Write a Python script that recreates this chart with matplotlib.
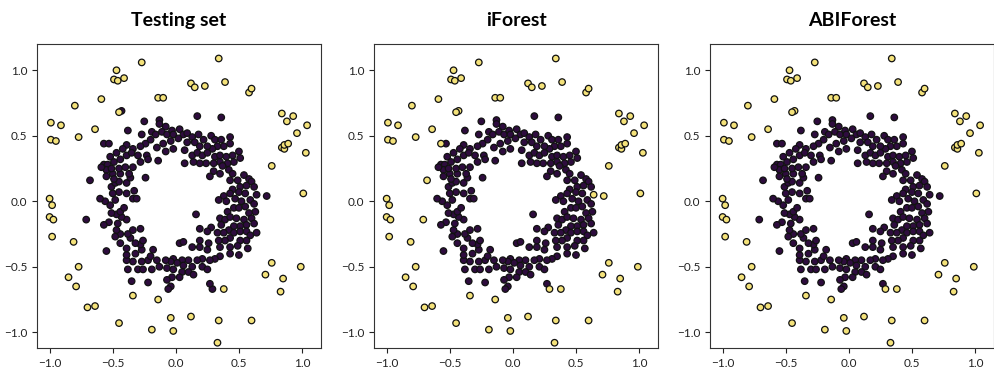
import matplotlib
matplotlib.use("Agg")
import matplotlib.pyplot as plt
from matplotlib.colors import ListedColormap
import numpy as np

# ---- data ----
# true outliers
outlier_x = [0.34, -0.27, -0.47, -0.49, -0.46, -0.41, 0.12, 0.15, 0.23, 0.39, 0.58, 0.60,
             -0.59, -0.14, -0.10, -0.80, -0.45, -0.99, -0.91, -0.64, -0.99, -0.95, -0.77,
             0.84, 0.93, 0.88, 1.04, 0.96, 0.84, 0.86, 0.86, 0.89, 1.03, 0.76, 1.01,
             -1.00, -0.98, -1.00, -0.97, -0.98, -0.81, -0.77, -0.85, -0.79, -0.34, -0.14,
             -0.70, -0.64, -0.45, -0.19, -0.04, -0.02, 0.12, 0.34, 0.33, 0.60, 0.38,
             0.76, 0.71, 0.99, 0.85, 0.83]
outlier_y = [1.09, 1.06, 1.00, 0.93, 0.92, 0.94, 0.90, 0.87, 0.88, 0.91, 0.83, 0.86,
             0.78, 0.79, 0.79, 0.73, 0.68, 0.60, 0.58, 0.55, 0.47, 0.46, 0.49,
             0.67, 0.65, 0.61, 0.58, 0.52, 0.41, 0.40, 0.43, 0.44, 0.37, 0.27, 0.06,
             0.02, -0.03, -0.12, -0.14, -0.27, -0.31, -0.50, -0.58, -0.65, -0.72, -0.75,
             -0.81, -0.80, -0.93, -0.98, -0.89, -0.99, -0.88, -0.91, -1.08, -0.91, -0.67,
             -0.47, -0.56, -0.50, -0.59, -0.69]

# true inliers (first seven are the ones some detectors flag)
inlier_x = [-0.43, 0.29, -0.57, -0.68, -0.71, 0.64, 0.72,
            -0.25, -0.13, -0.13, -0.08, 0.17, 0.36, -0.38, -0.27, -0.19, -0.16, -0.11, -0.07,
            -0.03, -0.02, 0.03, 0.06, 0.09, 0.13, 0.18, 0.22, 0.28, 0.31, 0.36, 0.43, 0.43,
            0.38, 0.33, 0.29, 0.25, 0.19, 0.15, 0.09, 0.02, -0.04, -0.10, -0.15, -0.20, -0.24,
            -0.28, -0.34, -0.39, -0.53, -0.42, -0.47, -0.52, -0.57, -0.54, -0.49, -0.44,
            -0.39, -0.35, -0.30, -0.23, -0.22, -0.14, -0.08, -0.02, 0.07, 0.13, 0.17, 0.21,
            0.25, 0.31, 0.35, 0.40, 0.45, 0.50, 0.51, 0.46, 0.41, 0.35, 0.30, 0.24, 0.19,
            0.14, 0.07, 0.42, 0.37, 0.35, 0.30, 0.27, 0.45, 0.54, 0.58, 0.60, 0.49, 0.43,
            0.51, 0.56, 0.62, 0.45, 0.50, 0.55, 0.43, 0.38, 0.34, 0.40, 0.47, 0.52, 0.59,
            0.46, 0.50, 0.55, 0.62, 0.63, 0.58, 0.41, 0.35, 0.39, 0.43, 0.48, 0.54, 0.60,
            0.62, 0.56, 0.51, 0.46, 0.42, 0.36, 0.28, 0.16, 0.19, 0.25, 0.33, 0.38, 0.46,
            0.51, 0.56, 0.59, 0.64, 0.56, 0.51, 0.43, 0.39, 0.34, 0.26, 0.19, 0.13, 0.19,
            0.25, 0.35, 0.43, 0.49, 0.57, 0.50, 0.43, 0.35, 0.31, 0.27, 0.21, 0.17, 0.10,
            0.05, -0.02, 0.03, 0.06, 0.21, 0.25, 0.13, 0.06, 0.01, -0.04, -0.08, -0.15,
            -0.22, -0.27, -0.34, -0.39, -0.38, -0.30, -0.26, -0.19, -0.13, -0.07, -0.02,
            0.05, 0.10, 0.14, 0.03, -0.03, -0.07, -0.22, -0.35, -0.04, 0.27, -0.06, -0.18,
            -0.20, -0.27, -0.32, -0.39, -0.28, -0.32, -0.26, -0.39, -0.44, -0.36, -0.38,
            -0.34, -0.28, -0.44, -0.47, -0.48, -0.55, -0.46, -0.53, -0.57, -0.39, -0.43,
            -0.47, -0.51, -0.44, -0.41, -0.52, -0.56, -0.60, -0.48, -0.34, -0.31, -0.33,
            -0.39, -0.45, -0.50, -0.51, -0.48, -0.45, -0.39, -0.36, -0.50, -0.44, -0.37,
            -0.55, -0.59, -0.51, -0.45, -0.40, -0.34, -0.28, -0.24, -0.55, -0.49]
inlier_y = [0.69, -0.67, 0.44, 0.16, -0.14, 0.05, 0.04,
            0.61, 0.62, 0.59, 0.57, 0.65, 0.64, 0.54, 0.51, 0.53, 0.51, 0.53, 0.51,
            0.54, 0.51, 0.55, 0.51, 0.52, 0.49, 0.51, 0.47, 0.50, 0.47, 0.47, 0.49, 0.44,
            0.42, 0.42, 0.40, 0.42, 0.42, 0.45, 0.45, 0.48, 0.46, 0.44, 0.41, 0.47, 0.44,
            0.42, 0.40, 0.43, 0.44, 0.40, 0.37, 0.34, 0.28, 0.28, 0.30, 0.32,
            0.35, 0.37, 0.35, 0.35, 0.32, 0.31, 0.38, 0.40, 0.39, 0.35, 0.37, 0.35,
            0.37, 0.34, 0.35, 0.34, 0.35, 0.38, 0.33, 0.30, 0.29, 0.30, 0.29, 0.29, 0.29,
            0.30, 0.29, 0.24, 0.27, 0.21, 0.23, 0.19, 0.21, 0.20, 0.17, 0.15, 0.16, 0.16,
            0.11, 0.12, 0.11, 0.09, 0.07, 0.06, 0.06, 0.04, 0.01, 0.00, 0.02, 0.00, 0.01,
            -0.05, -0.05, -0.04, -0.02, -0.08, -0.09, -0.08, -0.13, -0.14, -0.12, -0.13, -0.14, -0.13,
            -0.17, -0.18, -0.19, -0.19, -0.22, -0.18, -0.20, -0.10, -0.21, -0.23, -0.24, -0.24, -0.24,
            -0.23, -0.23, -0.26, -0.24, -0.30, -0.30, -0.28, -0.30, -0.30, -0.32, -0.30, -0.35, -0.35,
            -0.37, -0.35, -0.35, -0.34, -0.36, -0.41, -0.40, -0.42, -0.44, -0.45, -0.44, -0.45, -0.45,
            -0.45, -0.44, -0.32, -0.31, -0.50, -0.52, -0.50, -0.49, -0.47, -0.46, -0.45, -0.45,
            -0.45, -0.46, -0.46, -0.45, -0.52, -0.52, -0.52, -0.52, -0.50, -0.51, -0.52,
            -0.54, -0.54, -0.56, -0.58, -0.58, -0.60, -0.62, -0.61, -0.65, -0.63, -0.67, -0.37,
            -0.42, -0.37, -0.40, -0.41, -0.33, -0.32, -0.30, -0.36, -0.32, -0.28, -0.25,
            -0.22, -0.21, -0.25, -0.22, -0.27, -0.38, -0.17, -0.16, -0.18, -0.14, -0.12,
            -0.10, -0.09, -0.08, -0.05, -0.03, 0.00, 0.02, 0.01, 0.02, 0.02, 0.08,
            0.06, 0.07, 0.06, 0.11, 0.14, 0.15, 0.14, 0.18, 0.21, 0.21, 0.21,
            0.24, 0.26, 0.25, 0.25, 0.26, 0.26, 0.30, 0.18, 0.19, 0.17]

# indices of true inliers that each detector labels as outliers
iforest_flagged = [0, 1, 2, 3, 4, 5, 6]
abiforest_flagged = [0, 1]

titles = ["Testing set", "iForest", "ABIForest"]
xticks = [-1.0, -0.5, 0.0, 0.5, 1.0]
yticks = [-1.0, -0.5, 0.0, 0.5, 1.0]
class_colors = ["#2e0c3e", "#f4e27a"]

# ---- build label arrays ----
X = np.array(inlier_x + outlier_x)
Y = np.array(inlier_y + outlier_y)
n_in = len(inlier_x)
truth = np.array([0] * n_in + [1] * len(outlier_x))
pred_if = truth.copy()
pred_if[iforest_flagged] = 1
pred_abi = truth.copy()
pred_abi[abiforest_flagged] = 1
labels = [truth, pred_if, pred_abi]

cmap = ListedColormap(class_colors)

fig = plt.figure(figsize=(9.94, 3.78), dpi=100)
lefts = [0.0372, 0.3763, 0.7143]
for i in range(3):
    ax = fig.add_axes([lefts[i], 0.0794, 0.2857, 0.804])
    lab = labels[i]
    order = np.argsort(lab, kind="stable")
    ax.scatter(X[order], Y[order], c=lab[order], cmap=cmap, vmin=0, vmax=1,
               s=22, edgecolors="#111111", linewidths=0.9)
    ax.set_xlim(-1.10, 1.15)
    ax.set_ylim(-1.12, 1.20)
    ax.set_xticks(xticks)
    ax.set_yticks(yticks)
    ax.tick_params(labelsize=8.5, length=3.5, width=0.8, colors="#222222")
    for lbl in ax.get_xticklabels() + ax.get_yticklabels():
        lbl.set_family("Lato")
    for sp in ax.spines.values():
        sp.set_linewidth(0.8)
        sp.set_color("#333333")
    ax.set_title(titles[i], fontsize=14, fontweight="bold", family="Lato", pad=13)

fig.savefig("out.png", dpi=100)
